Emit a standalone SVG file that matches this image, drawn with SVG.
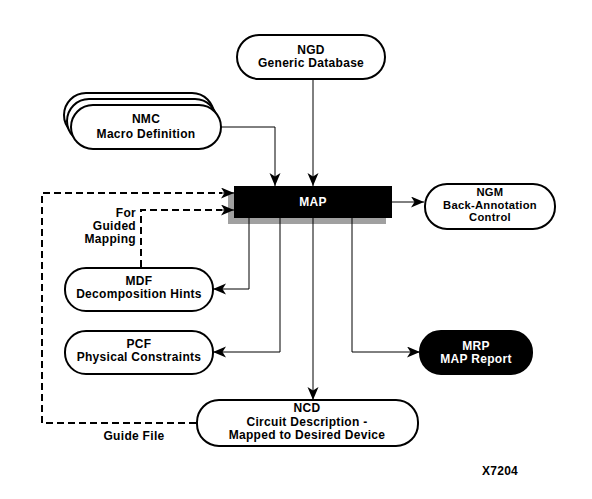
<svg xmlns="http://www.w3.org/2000/svg" width="592" height="499" viewBox="0 0 592 499">
<style>
text{font-family:"Liberation Sans",Arial,sans-serif;font-weight:bold;font-size:12px;letter-spacing:0.3px;text-anchor:middle;fill:#000}
.sm{font-size:11.2px}
.box{fill:#fff;stroke:#000;stroke-width:2}
.dark{fill:#000;stroke:#000;stroke-width:2}
.w{fill:#fff}
.con{fill:none;stroke:#000;stroke-width:1}
.dash{fill:none;stroke:#000;stroke-width:2;stroke-dasharray:7,4}
</style>
<defs>
<marker id="ah" markerUnits="userSpaceOnUse" markerWidth="14" markerHeight="12" refX="13" refY="5.5" orient="auto">
<path d="M0,0 L13,5.5 L0,11 L3.5,5.5 z" fill="#000"/>
</marker>
</defs>
<rect width="592" height="499" fill="#fff"/>
<g id="ngd">
<rect class="box" x="237" y="35" width="148" height="44" rx="22"/>
<text x="311" y="54">NGD</text>
<text x="311" y="67">Generic Database</text>
</g>
<g id="nmc">
<rect class="box" x="64" y="93" width="150" height="44" rx="22"/>
<rect class="box" x="67" y="99" width="150" height="44" rx="22"/>
<rect class="box" x="71" y="105" width="150" height="44" rx="22"/>
<text x="146" y="123">NMC</text>
<text x="146" y="138">Macro Definition</text>
</g>
<g id="map">
<rect x="228" y="192" width="158" height="32" fill="#a0a0a0"/>
<rect x="234" y="186" width="158" height="32" fill="#000"/>
<text class="w" x="313" y="206">MAP</text>
</g>
<g id="ngm">
<rect class="box" x="425" y="184" width="130" height="45" rx="22"/>
<text class="sm" x="490" y="195.5">NGM</text>
<text class="sm" x="490" y="208.5">Back-Annotation</text>
<text class="sm" x="490" y="221">Control</text>
</g>
<g id="mdf">
<rect class="box" x="65" y="268" width="148" height="43" rx="21"/>
<text x="139" y="285">MDF</text>
<text x="139" y="298">Decomposition Hints</text>
</g>
<g id="pcf">
<rect class="box" x="65" y="331" width="148" height="43" rx="21"/>
<text x="139" y="348">PCF</text>
<text x="139" y="361">Physical Constraints</text>
</g>
<g id="mrp">
<rect class="dark" x="420" y="331" width="112" height="43" rx="21"/>
<text class="w" x="476" y="350">MRP</text>
<text class="w" x="476" y="363">MAP Report</text>
</g>
<g id="ncd">
<rect class="box" x="197" y="400" width="221" height="46" rx="22"/>
<text x="307" y="412">NCD</text>
<text x="307" y="426">Circuit Description -</text>
<text x="307" y="439">Mapped to Desired Device</text>
</g>
<g id="labels">
<text x="136" y="217" style="text-anchor:end">For</text>
<text x="136" y="230" style="text-anchor:end">Guided</text>
<text x="136" y="243" style="text-anchor:end">Mapping</text>
<text x="134" y="440">Guide File</text>
<text x="500" y="475">X7204</text>
</g>
<g id="connectors">
<path class="con" d="M221,127 H275 V186" marker-end="url(#ah)"/>
<path class="con" d="M313,79 V186" marker-end="url(#ah)"/>
<path class="con" d="M392,202 H424" marker-end="url(#ah)"/>
<path class="con" d="M249,218 V289 H213" marker-end="url(#ah)"/>
<path class="con" d="M280,218 V352 H213" marker-end="url(#ah)"/>
<path class="con" d="M313,218 V400" marker-end="url(#ah)"/>
<path class="con" d="M352,218 V352 H420" marker-end="url(#ah)"/>
<path class="dash" d="M196,423 H42 V193 H222"/>
<path class="con" d="M222,193 H234" marker-end="url(#ah)"/>
<path class="dash" d="M141,267 V210 H222"/>
<path class="con" d="M222,210 H234" marker-end="url(#ah)"/>
</g>
</svg>
